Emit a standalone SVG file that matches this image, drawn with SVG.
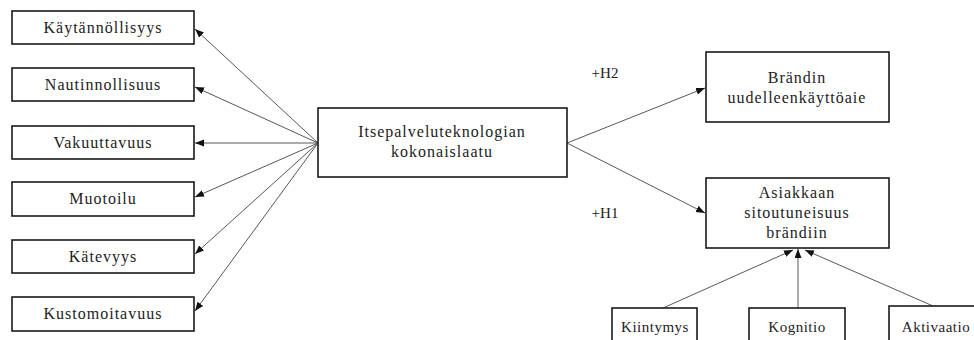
<svg xmlns="http://www.w3.org/2000/svg" width="974" height="340" viewBox="0 0 974 340">
<style>
.box{fill:#fff;stroke:#1a1a1a;stroke-width:1.6}
.t{font-family:"Liberation Serif","Times New Roman",serif;font-size:16px;letter-spacing:1px;fill:#222;text-anchor:middle}
.s{font-family:"Liberation Serif","Times New Roman",serif;font-size:15px;letter-spacing:0.5px;fill:#222;text-anchor:middle}
.lbl{font-family:"Liberation Serif","Times New Roman",serif;font-size:15px;fill:#222;text-anchor:middle}
.c{stroke:#444;stroke-width:0.9;fill:none;marker-end:url(#ah)}
</style>
<defs>
<marker id="ah" markerUnits="userSpaceOnUse" markerWidth="10" markerHeight="8" refX="9" refY="3.5" orient="auto">
<path d="M0,0 L9,3.5 L0,7 z" fill="#111"/>
</marker>
</defs>
<rect width="974" height="340" fill="#fff"/>
<g id="connectors">
<line class="c" x1="318" y1="143" x2="195" y2="29"/>
<line class="c" x1="318" y1="143" x2="195" y2="87"/>
<line class="c" x1="318" y1="143" x2="195" y2="143"/>
<line class="c" x1="318" y1="143" x2="195" y2="197"/>
<line class="c" x1="318" y1="143" x2="195" y2="254"/>
<line class="c" x1="318" y1="143" x2="195" y2="311"/>
<line class="c" x1="567" y1="143" x2="705" y2="88"/>
<line class="c" x1="567" y1="143" x2="705" y2="213"/>
<line class="c" x1="663" y1="308" x2="793" y2="250"/>
<line class="c" x1="798" y1="308" x2="798" y2="249"/>
<line class="c" x1="933" y1="306" x2="805" y2="250"/>
</g>
<g id="n1"><rect class="box" x="12" y="11" width="182" height="33"/><text class="t" x="103" y="33">Käytännöllisyys</text></g>
<g id="n2"><rect class="box" x="12" y="68" width="182" height="33"/><text class="t" x="103" y="90">Nautinnollisuus</text></g>
<g id="n3"><rect class="box" x="12" y="126" width="182" height="33"/><text class="t" x="103" y="148">Vakuuttavuus</text></g>
<g id="n4"><rect class="box" x="12" y="182" width="182" height="34"/><text class="t" x="103" y="204">Muotoilu</text></g>
<g id="n5"><rect class="box" x="12" y="240" width="182" height="33"/><text class="t" x="103" y="262">Kätevyys</text></g>
<g id="n6"><rect class="box" x="12" y="297" width="182" height="34"/><text class="t" x="103" y="319">Kustomoitavuus</text></g>
<g id="center"><rect class="box" x="318" y="108" width="249" height="69"/><text class="t" x="442" y="137">Itsepalveluteknologian</text><text class="t" x="442" y="157">kokonaislaatu</text></g>
<g id="reuse"><rect class="box" x="706" y="52" width="183" height="70"/><text class="t" x="797" y="83">Brändin</text><text class="t" x="797" y="103">uudelleenkäyttöaie</text></g>
<g id="engage"><rect class="box" x="706" y="178" width="183" height="70"/><text class="t" x="797" y="198">Asiakkaan</text><text class="t" x="797" y="218">sitoutuneisuus</text><text class="t" x="797" y="238">brändiin</text></g>
<g id="h2"><text class="lbl" x="605" y="78">+H2</text></g>
<g id="h1"><text class="lbl" x="605" y="218">+H1</text></g>
<g id="kiintymys"><rect class="box" x="612" y="308" width="85" height="40"/><text class="s" x="655" y="332">Kiintymys</text></g>
<g id="kognitio"><rect class="box" x="749" y="308" width="96" height="40"/><text class="s" x="797" y="332">Kognitio</text></g>
<g id="aktivaatio"><rect class="box" x="889" y="306" width="100" height="42"/><text class="s" x="936" y="332">Aktivaatio</text></g>
</svg>
